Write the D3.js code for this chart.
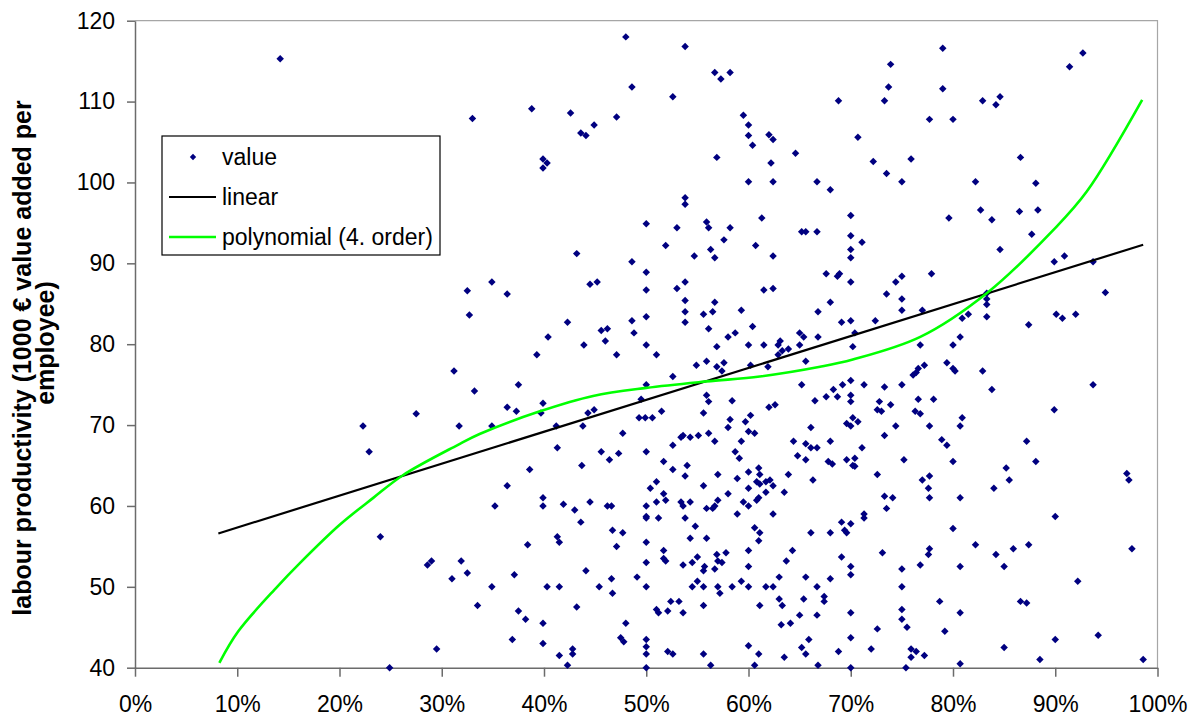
<!DOCTYPE html>
<html>
<head>
<meta charset="utf-8">
<script src="https://cdn.jsdelivr.net/npm/d3@7"></script>
<style>
  html, body { margin: 0; padding: 0; background: #fff; }
  svg { display: block; font-family: "Liberation Sans", Arial, sans-serif; }
</style>
</head>
<body>
<svg id="chart" width="1196" height="722"></svg>
<script>
// share on x (%), labour productivity on y (1000 € per employee)
const points = [
  [14.2,115.3],[33.0,107.9],[48.0,118.0],[53.8,116.8],[56.7,113.6],[57.3,112.8],[58.2,113.6],[48.6,111.8],[52.6,110.6],[38.8,109.1],
  [42.6,108.6],[47.1,108.1],[44.9,107.1],[43.6,106.1],[44.1,105.8],[39.9,102.9],[40.3,102.4],[39.9,101.8],[59.5,108.3],[60.0,107.1],
  [60.0,105.8],[62.0,105.9],[62.4,105.3],[60.4,104.6],[56.9,103.1],[64.6,103.6],[62.2,102.4],[60.0,100.1],[62.4,100.1],[66.7,100.1],
  [53.8,98.1],[53.8,97.3],[61.3,95.6],[50.0,94.9],[53.0,94.4],[55.9,95.1],[56.1,94.4],[58.2,94.4],[65.2,93.9],[65.6,93.9],[66.7,93.9],
  [79.0,116.6],[73.9,114.6],[92.7,116.0],[91.4,114.3],[73.7,111.8],[79.0,111.6],[68.8,110.1],[73.3,110.1],[82.9,110.1],[84.6,110.6],
  [84.2,109.6],[77.7,107.8],[80.0,107.8],[70.7,105.6],[72.2,102.6],[75.9,102.9],[86.6,103.1],[73.5,101.1],[75.0,100.1],[82.2,100.1],
  [88.1,99.9],[68.0,99.1],[82.7,96.6],[83.8,95.4],[86.5,96.4],[88.3,96.6],[70.0,95.9],[79.6,95.6],
  [32.5,86.6],[32.7,83.6],[31.2,76.7],[33.2,74.2],[27.5,71.4],[22.3,69.9],[31.7,69.9],
  [51.9,92.2],[57.6,92.9],[56.3,91.7],[56.7,90.7],[54.7,90.9],[60.7,92.2],[62.4,90.9],[43.2,91.2],[48.6,90.2],[50.0,88.9],
  [34.9,87.7],[36.4,86.2],[44.5,87.4],[45.2,87.7],[50.0,86.7],[53.0,86.9],[53.8,87.7],[53.8,85.4],[53.8,84.0],[53.8,82.7],
  [56.7,85.2],[56.5,84.0],[55.6,83.7],[56.1,81.9],[59.3,84.2],[61.5,86.7],[62.4,86.9],[60.4,82.2],[66.8,84.0],[42.3,82.7],
  [48.6,82.9],[48.8,81.4],[50.0,83.4],[45.6,81.7],[46.2,81.9],[46.0,80.4],[40.4,80.9],[43.9,79.9],[50.0,79.9],[47.1,78.7],
  [51.0,78.7],[39.3,78.7],[58.0,80.9],[58.7,81.4],[56.9,79.7],[60.0,79.9],[61.5,79.9],[62.9,79.9],[63.1,80.4],[63.3,79.2],
  [63.9,79.4],[62.9,78.7],[65.0,81.4],[65.4,80.9],[65.0,79.9],[66.8,80.9],[65.6,77.9],[54.9,77.4],[55.9,77.9],[56.9,77.2],
  [57.6,77.7],[57.4,76.7],[60.2,77.4],[61.9,77.2],[52.6,76.0],[50.0,75.0],[37.5,75.0],[65.2,75.0],[55.9,73.7],[56.1,72.9],
  [49.5,73.2],[58.4,73.0],[62.0,72.2],[62.6,72.5],[66.5,73.0],[36.4,72.2],[37.3,71.7],[39.9,72.7],[39.7,71.5],[44.3,71.5],
  [44.9,71.9],[51.5,71.7],[55.6,71.5],[60.2,71.2],[34.9,69.9],[41.2,69.9],[43.8,69.9],[49.3,70.9],[49.9,70.9],[50.6,70.9],
  [58.2,70.7],[58.0,69.7],[59.7,70.4],[60.0,69.2],[60.6,69.0],[66.1,69.7],[47.7,69.0],[53.6,68.7],[53.4,68.5],[54.3,68.5],
  [55.1,68.7],[56.1,69.0],[56.7,68.0],[52.6,67.5],[59.3,68.0],[64.4,68.0],[65.6,67.7],[66.1,67.2],[66.7,67.2],[41.3,67.2],
  [70.0,93.4],[71.1,92.6],[70.0,91.7],[70.0,90.7],[87.7,93.6],[84.6,91.7],[89.9,90.2],[90.9,90.9],[93.7,90.2],[67.6,88.7],
  [68.7,88.4],[68.9,88.7],[70.0,87.7],[74.4,87.7],[75.0,88.4],[77.9,88.7],[73.5,86.2],[75.0,85.6],[68.0,85.2],[75.0,84.2],
  [77.0,84.2],[83.3,86.3],[83.3,85.6],[83.3,84.9],[83.3,83.4],[94.9,86.4],[69.1,82.7],[70.0,82.9],[72.4,82.9],[70.4,81.4],
  [80.9,83.2],[81.5,83.7],[87.4,82.4],[90.1,83.7],[90.7,83.2],[92.0,83.7],[70.2,79.7],[76.8,79.9],[80.0,79.9],[80.7,80.9],
  [79.4,77.7],[80.0,77.0],[80.2,76.7],[77.2,77.4],[76.6,77.0],[76.4,76.5],[76.1,76.2],[82.9,76.7],[83.8,74.4],[93.7,75.0],
  [89.9,71.9],[87.2,68.0],[70.0,75.5],[69.2,75.0],[68.3,74.4],[67.6,73.5],[68.7,73.5],[70.0,73.7],[70.0,72.9],[71.3,75.0],
  [73.3,74.7],[75.0,75.0],[72.8,72.9],[72.6,71.9],[73.0,71.7],[73.9,72.5],[76.6,73.2],[78.1,73.2],[76.3,71.7],[76.8,71.4],
  [80.9,70.9],[80.7,69.9],[77.7,69.9],[74.4,69.9],[70.2,70.9],[69.6,70.2],[70.0,69.9],[70.7,70.4],[73.3,68.7],[68.0,68.0],
  [71.1,67.2],[78.9,68.2],[79.4,67.5],
  [22.9,66.7],[24.0,56.2],[28.6,52.7],[29.0,53.2],[31.9,53.2],[32.5,51.7],[31.0,51.0],[33.5,47.7],[29.5,42.3],[24.9,40.0],
  [45.6,66.7],[47.3,66.5],[46.4,65.7],[50.0,66.7],[51.7,65.5],[52.6,64.5],[54.0,65.0],[53.8,63.7],[58.7,66.7],[59.1,65.9],
  [38.6,64.5],[43.7,65.0],[36.4,62.5],[35.2,60.0],[39.9,61.0],[39.9,60.0],[41.9,60.2],[43.0,59.5],[44.5,60.5],[46.2,60.0],
  [46.6,60.0],[43.6,58.0],[50.0,60.0],[50.0,58.7],[50.0,58.5],[51.0,63.0],[50.4,62.2],[51.7,61.5],[51.9,60.7],[51.0,60.5],
  [51.2,58.5],[53.4,60.5],[53.6,60.0],[54.3,60.5],[53.8,58.5],[55.6,62.5],[57.0,63.9],[55.9,59.7],[56.5,59.7],[56.7,60.0],
  [57.0,60.7],[58.0,61.5],[58.9,63.4],[60.0,64.2],[61.0,64.7],[61.1,63.9],[60.8,63.0],[61.1,62.7],[61.7,63.0],[62.1,63.2],
  [60.0,62.2],[62.4,62.5],[61.7,61.7],[59.5,60.5],[60.0,60.0],[60.8,60.7],[61.0,61.0],[58.9,59.0],[62.4,59.0],[63.5,61.7],
  [63.9,63.9],[64.8,66.2],[65.6,65.7],[66.3,63.2],[54.8,57.5],[54.3,56.0],[55.9,56.0],[41.3,56.2],[41.5,55.5],[38.4,55.2],
  [46.7,57.0],[47.7,56.7],[47.1,55.0],[50.0,55.5],[51.7,54.5],[51.7,53.5],[51.9,53.2],[50.0,53.0],[53.6,52.7],[54.5,53.0],
  [55.0,53.7],[55.7,52.5],[55.6,52.0],[56.7,52.2],[56.9,54.0],[57.0,53.2],[57.4,53.0],[57.8,54.2],[60.0,54.5],[60.0,52.5],
  [60.6,57.3],[61.1,56.7],[61.0,55.7],[66.1,56.7],[64.3,54.5],[63.7,53.2],[37.1,51.5],[44.1,52.0],[34.9,50.0],[40.3,50.0],
  [41.5,50.0],[45.4,50.0],[46.6,51.0],[46.7,49.2],[49.1,51.2],[50.0,50.0],[54.5,50.0],[55.0,50.7],[55.6,50.0],[57.0,50.0],
  [57.2,49.2],[58.4,50.0],[59.3,50.7],[60.0,50.0],[61.7,50.0],[62.4,50.0],[63.0,51.2],[65.6,51.2],[66.7,50.0],[63.0,48.5],
  [63.3,47.7],[65.4,48.5],[65.0,46.5],[66.7,46.5],[37.5,47.0],[38.2,46.0],[39.9,45.5],[43.2,47.5],[48.0,45.5],[51.0,47.2],
  [51.2,46.8],[52.1,47.0],[52.4,48.2],[53.2,48.2],[53.6,46.8],[55.6,47.7],[61.1,47.7],[63.2,45.3],[64.1,45.5],[36.9,43.5],
  [39.9,43.0],[41.5,41.5],[42.8,42.3],[42.8,41.7],[42.3,40.3],[47.5,43.7],[47.8,43.2],[50.0,43.5],[50.0,42.6],[50.0,41.7],
  [50.0,40.0],[52.1,42.0],[52.6,41.7],[55.6,41.7],[56.3,40.3],[60.0,42.7],[61.0,41.7],[60.6,40.3],[63.5,41.3],[65.2,42.5],
  [65.6,41.7],[65.9,43.5],[66.8,40.3],
  [67.8,65.5],[68.2,65.2],[69.6,65.7],[70.4,65.9],[70.2,65.0],[70.4,64.9],[72.6,63.9],[75.2,65.7],[80.0,65.5],[77.0,63.2],
  [77.7,63.7],[77.6,62.2],[77.7,61.0],[80.7,61.0],[73.3,61.2],[74.1,61.0],[73.5,59.7],[71.3,59.0],[71.3,58.5],[85.2,64.7],
  [85.5,63.2],[84.0,62.2],[88.1,65.5],[97.0,64.0],[97.2,63.2],[90.0,58.7],[69.1,58.0],[70.0,57.8],[69.4,57.0],[69.6,56.7],
  [68.0,56.7],[80.0,57.2],[82.2,55.2],[84.2,54.0],[85.9,54.7],[87.4,55.2],[97.5,54.7],[73.1,54.2],[77.7,54.7],[77.6,54.0],
  [69.1,53.7],[70.0,52.5],[70.0,51.5],[75.0,52.2],[76.8,52.7],[80.7,52.5],[85.0,52.5],[68.0,51.0],[75.0,50.0],[92.2,50.7],
  [67.4,48.8],[67.4,48.2],[78.7,48.2],[86.6,48.2],[87.2,48.0],[70.0,46.8],[75.0,47.2],[75.0,46.0],[75.5,45.0],[80.7,46.8],
  [72.6,44.8],[79.2,44.5],[70.0,43.7],[90.0,43.5],[94.2,44.0],[68.8,42.0],[72.0,42.3],[75.9,42.3],[76.4,42.0],[75.9,41.3],
  [77.2,41.5],[85.0,42.5],[88.5,41.0],[98.6,41.0],[70.0,40.0],[75.4,40.0],[80.7,40.5]
];

// trend lines
const linearTrend = [[8.15,56.6],[98.6,92.3]];
const polyTrend = [
  [8.25,40.6],[10.1,44.5],[13.9,50.0],[16.1,52.9],[20.05,57.7],[23.3,61.0],[26.2,63.8],[31.5,67.5],[33.7,68.9],
  [39.6,71.7],[44.8,73.6],[50.0,74.6],[55.9,75.4],[61.1,76.0],[67.0,77.2],[70.2,78.1],[76.8,80.9],[83.3,86.3],
  [89.8,94.1],[93.1,98.9],[98.5,110.2]
];

const xTicks = [0,10,20,30,40,50,60,70,80,90,100];
const yTicks = [40,50,60,70,80,90,100,110,120];
const legendLabels = ['value', 'linear', 'polynomial (4. order)'];
const yTitle = ['labour productivity (1000 € value added per', 'employee)'];

const svg = d3.select('#chart');
const plotLeft = 135, plotRight = 1157.5, plotTop = 20.7, plotBottom = 667.7;

const x = d3.scaleLinear().domain([0, 100]).range([plotLeft, plotRight]);
const y = d3.scaleLinear().domain([40, 120]).range([plotBottom, plotTop]);

svg.append('rect').attr('width', 1196).attr('height', 722).attr('fill', '#fff');

// plot frame (top / right)
svg.append('path')
    .attr('d', `M${plotLeft},${plotTop}H${plotRight}V${plotBottom}`)
    .attr('fill', 'none')
    .attr('stroke', '#a6a6a6')
    .attr('stroke-width', 1.2);

// axes
const yAxis = svg.append('g')
    .attr('transform', `translate(${plotLeft},0)`)
    .call(d3.axisLeft(y).tickValues(yTicks).tickSize(8).tickSizeOuter(0).tickPadding(12));

const xAxis = svg.append('g')
    .attr('transform', `translate(0,${plotBottom})`)
    .call(d3.axisBottom(x).tickValues(xTicks).tickSize(9).tickSizeOuter(0).tickPadding(19)
        .tickFormat(d => d + '%'));

[yAxis, xAxis].forEach(g => {
  g.select('.domain').attr('stroke', '#6b6b6b').attr('stroke-width', 1.5);
  g.selectAll('.tick line').attr('stroke', '#6b6b6b').attr('stroke-width', 1.5);
  g.selectAll('.tick text')
      .attr('fill', '#000')
      .style('font-size', '23px')
      .style('font-family', '"Liberation Sans", Arial, sans-serif');
});

// scatter markers (diamonds)
const diamond = d3.symbol().type(d3.symbolSquare).size(28);
svg.append('g')
    .selectAll('path')
    .data(points)
    .join('path')
    .attr('d', diamond)
    .attr('transform', d => `translate(${x(d[0])},${y(d[1])}) rotate(45)`)
    .attr('fill', '#000080');

// trend lines
const line = d3.line().x(d => x(d[0])).y(d => y(d[1]));
svg.append('path')
    .datum(linearTrend)
    .attr('d', line)
    .attr('fill', 'none')
    .attr('stroke', '#000')
    .attr('stroke-width', 2.2);

svg.append('path')
    .datum(polyTrend)
    .attr('d', line.curve(d3.curveCatmullRom.alpha(0.5)))
    .attr('fill', 'none')
    .attr('stroke', '#00ff00')
    .attr('stroke-width', 2.6);

// y-axis title
const title = svg.append('text')
    .attr('transform', 'rotate(-90)')
    .attr('text-anchor', 'middle')
    .style('font-weight', 'bold')
    .style('font-size', '25px')
    .attr('fill', '#000');
title.append('tspan').attr('x', -358).attr('y', 31).text(yTitle[0]);
title.append('tspan').attr('x', -343).attr('y', 54).text(yTitle[1]);

// legend
const legend = svg.append('g').attr('transform', 'translate(162,136)');
legend.append('rect')
    .attr('width', 278).attr('height', 119)
    .attr('fill', '#fff')
    .attr('stroke', '#000')
    .attr('stroke-width', 1.2);

const rowY = [21, 61, 101];
legend.append('path')
    .attr('d', d3.symbol().type(d3.symbolSquare).size(20))
    .attr('transform', `translate(31,${rowY[0]}) rotate(45)`)
    .attr('fill', '#000080');
legend.append('line')
    .attr('x1', 7).attr('x2', 54).attr('y1', rowY[1]).attr('y2', rowY[1])
    .attr('stroke', '#000').attr('stroke-width', 2.2);
legend.append('line')
    .attr('x1', 7).attr('x2', 54).attr('y1', rowY[2]).attr('y2', rowY[2])
    .attr('stroke', '#00ff00').attr('stroke-width', 2.6);

legend.selectAll('text.lab')
    .data(legendLabels)
    .join('text')
    .attr('class', 'lab')
    .attr('x', 60)
    .attr('y', (d, i) => rowY[i])
    .attr('dy', '0.35em')
    .style('font-size', '23px')
    .attr('fill', '#000')
    .text(d => d);
</script>
</body>
</html>
